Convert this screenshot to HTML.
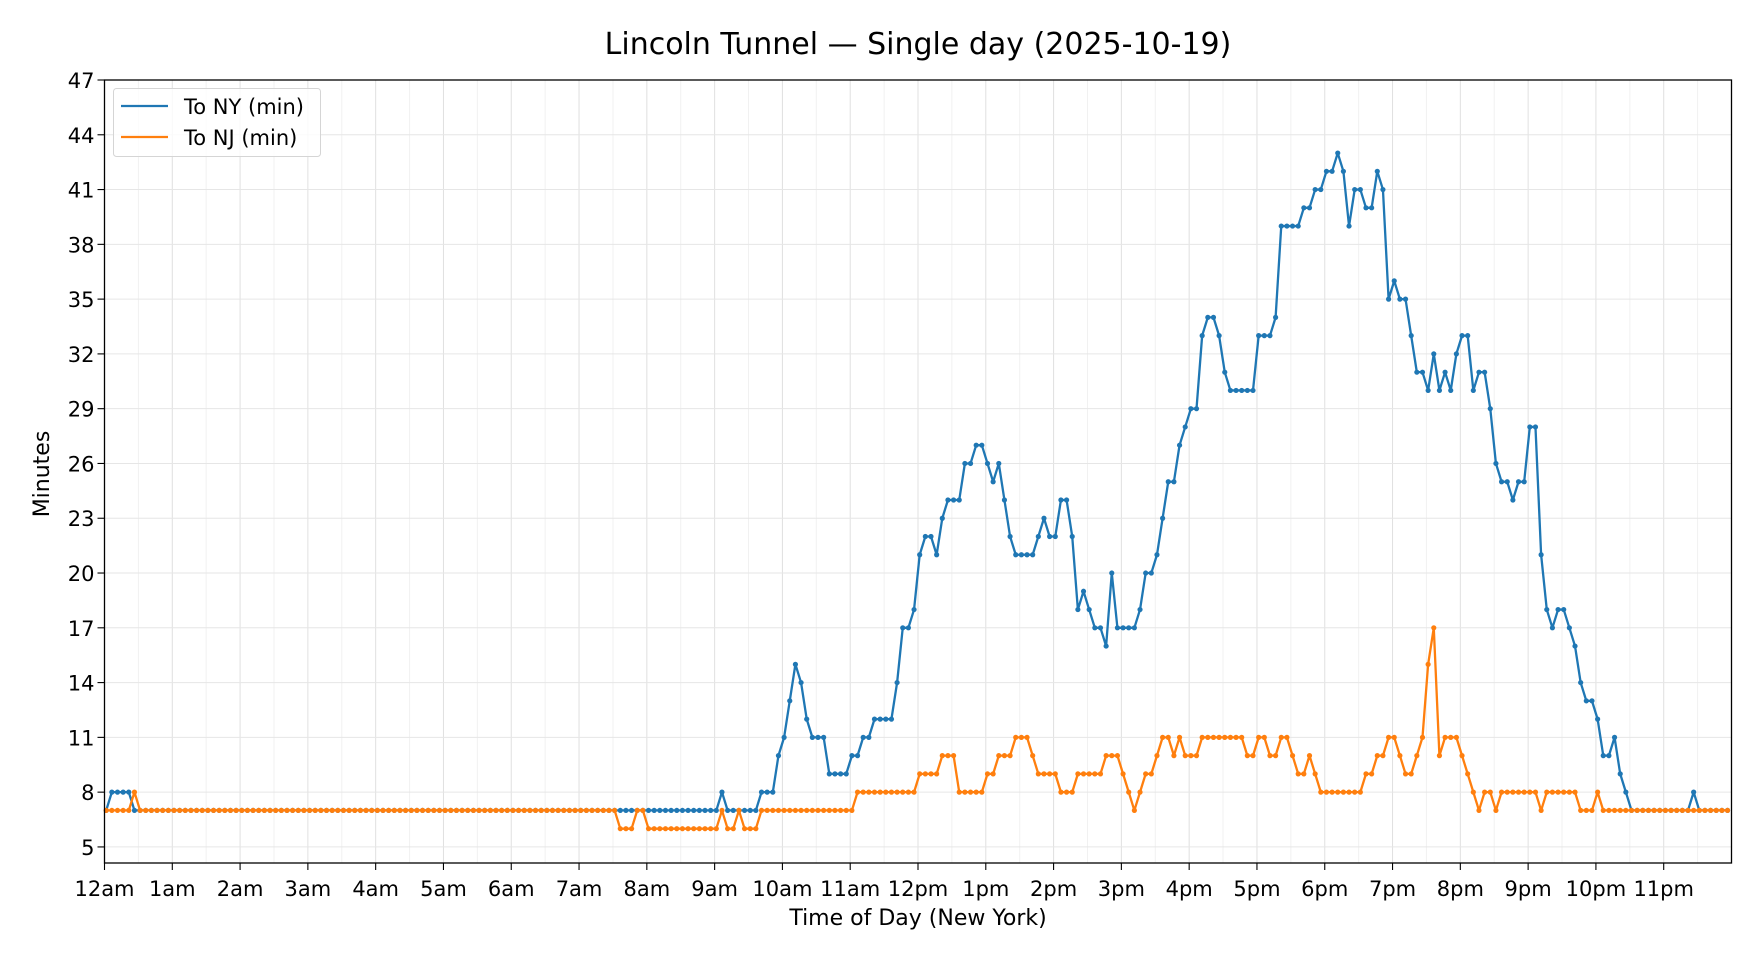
<!DOCTYPE html>
<html><head><meta charset="utf-8"><style>
html,body{margin:0;padding:0;background:#fff;}
svg{display:block;font-family:"DejaVu Sans","Liberation Sans",sans-serif;}
</style></head><body>
<svg id="chart" width="1760" height="960" viewBox="0 0 1760 960">
<rect width="1760" height="960" fill="#fff"/>
<text x="918" y="54" text-anchor="middle" font-size="30" fill="#000">Lincoln Tunnel — Single day (2025-10-19)</text>
<g id="grid"></g>
<g id="series"></g>
<g id="axes"></g>
<text x="918" y="925" text-anchor="middle" font-size="22" fill="#000">Time of Day (New York)</text>
<text x="0" y="0" transform="translate(49,474) rotate(-90)" text-anchor="middle" font-size="22" fill="#000">Minutes</text>
<g>
<rect x="113.5" y="88.5" width="207" height="68" rx="3" fill="#fff" fill-opacity="0.8" stroke="#d5d5d5"/>
<g>
<line x1="121" y1="106" x2="168" y2="106" stroke="#1f77b4" stroke-width="2.2"/>
<text x="184" y="114" font-size="21" fill="#000">To NY (min)</text></g>
<g>
<line x1="121" y1="137" x2="168" y2="137" stroke="#ff7f0e" stroke-width="2.2"/>
<text x="184" y="145" font-size="21" fill="#000">To NJ (min)</text></g>
</g>
</svg>
<script>
const hourLabels=["12am","1am","2am","3am","4am","5am","6am","7am","8am","9am","10am","11am","12pm","1pm","2pm","3pm","4pm","5pm","6pm","7pm","8pm","9pm","10pm","11pm"];
const yTicks=[5,8,11,14,17,20,23,26,29,32,35,38,41,44,47];
const toNY=[7,8,8,8,8,7,7,7,7,7,7,7,7,7,7,7,7,7,7,7,7,7,7,7,7,7,7,7,7,7,7,7,7,7,7,7,7,7,7,7,7,7,7,7,7,7,7,7,7,7,7,7,7,7,7,7,7,7,7,7,7,7,7,7,7,7,7,7,7,7,7,7,7,7,7,7,7,7,7,7,7,7,7,7,7,7,7,7,7,7,7,7,7,7,7,7,7,7,7,7,7,7,7,7,7,7,7,7,7,8,7,7,7,7,7,7,8,8,8,10,11,13,15,14,12,11,11,11,9,9,9,9,10,10,11,11,12,12,12,12,14,17,17,18,21,22,22,21,23,24,24,24,26,26,27,27,26,25,26,24,22,21,21,21,21,22,23,22,22,24,24,22,18,19,18,17,17,16,20,17,17,17,17,18,20,20,21,23,25,25,27,28,29,29,33,34,34,33,31,30,30,30,30,30,33,33,33,34,39,39,39,39,40,40,41,41,42,42,43,42,39,41,41,40,40,42,41,35,36,35,35,33,31,31,30,32,30,31,30,32,33,33,30,31,31,29,26,25,25,24,25,25,28,28,21,18,17,18,18,17,16,14,13,13,12,10,10,11,9,8,7,7,7,7,7,7,7,7,7,7,7,8,7,7,7,7,7,7];
const toNJ=[7,7,7,7,7,8,7,7,7,7,7,7,7,7,7,7,7,7,7,7,7,7,7,7,7,7,7,7,7,7,7,7,7,7,7,7,7,7,7,7,7,7,7,7,7,7,7,7,7,7,7,7,7,7,7,7,7,7,7,7,7,7,7,7,7,7,7,7,7,7,7,7,7,7,7,7,7,7,7,7,7,7,7,7,7,7,7,7,7,7,7,6,6,6,7,7,6,6,6,6,6,6,6,6,6,6,6,6,6,7,6,6,7,6,6,6,7,7,7,7,7,7,7,7,7,7,7,7,7,7,7,7,7,8,8,8,8,8,8,8,8,8,8,8,9,9,9,9,10,10,10,8,8,8,8,8,9,9,10,10,10,11,11,11,10,9,9,9,9,8,8,8,9,9,9,9,9,10,10,10,9,8,7,8,9,9,10,11,11,10,11,10,10,10,11,11,11,11,11,11,11,11,10,10,11,11,10,10,11,11,10,9,9,10,9,8,8,8,8,8,8,8,8,9,9,10,10,11,11,10,9,9,10,11,15,17,10,11,11,11,10,9,8,7,8,8,7,8,8,8,8,8,8,8,7,8,8,8,8,8,8,7,7,7,8,7,7,7,7,7,7,7,7,7,7,7,7,7,7,7,7,7,7,7,7,7,7,7];
const sampleStepMin=5, sampleOffsetMin=1.5;
const X0=104.5,X1=1731.5,Y0=863,Y1=80,YMIN=4.12,YMAX=47;
const NS="http://www.w3.org/2000/svg";
function xs(minutes){return X0+(minutes/1440)*(X1-X0);}
function ys(v){return Y0-(v-YMIN)/(YMAX-YMIN)*(Y0-Y1);}
function mk(tag,attrs,parent){const e=document.createElementNS(NS,tag);for(const k in attrs)e.setAttribute(k,attrs[k]);parent.appendChild(e);return e;}
const grid=document.getElementById('grid'),axes=document.getElementById('axes'),series=document.getElementById('series');
for(let h=0;h<24;h++){
  const xm=xs(h*60),xh=xs(h*60+30);
  const g1=mk('line',{x1:xm,x2:xm,y1:Y1,y2:Y0,stroke:'#e0e0e0','stroke-width':1},grid);
  
  
  const g2=mk('line',{x1:xh,x2:xh,y1:Y1,y2:Y0,stroke:'#f1f1f1','stroke-width':1},grid);
  
  
  const t=mk('line',{x1:xm,x2:xm,y1:Y0,y2:Y0+7,stroke:'#000','stroke-width':1.1},axes);
  
  
  const lb=mk('text',{x:xm,y:Y0+33,'text-anchor':'middle','font-size':21,fill:'#000'},axes);
  lb.textContent=hourLabels[h];
  
  
}
yTicks.forEach(v=>{
  const y=ys(v);
  const g=mk('line',{x1:X0,x2:X1,y1:y,y2:y,stroke:'#e6e6e6','stroke-width':1},grid);
  
  
  const t=mk('line',{x1:X0-7,x2:X0,y1:y,y2:y,stroke:'#000','stroke-width':1.1},axes);
  
  
  const lb=mk('text',{x:X0-10,y:y+8,'text-anchor':'end','font-size':21,fill:'#000'},axes);
  lb.textContent=String(v);
  
  
});
const frame=mk('rect',{x:X0,y:Y1,width:X1-X0,height:Y0-Y1,fill:'none',stroke:'#000','stroke-width':1.3},axes);


function drawSeries(vals,color,name){
  const g=mk('g',{},series);
  
  
  const pts=vals.map((v,i)=>xs(i*sampleStepMin+sampleOffsetMin).toFixed(2)+','+ys(v).toFixed(2)).join(' ');
  const pl=mk('polyline',{points:pts,fill:'none',stroke:color,'stroke-width':2.3,'stroke-linejoin':'round'},g);
  
  
  vals.forEach((v,i)=>{
    const c=mk('circle',{cx:xs(i*sampleStepMin+sampleOffsetMin),cy:ys(v),r:2.6,fill:color},g);
    
    
  });
}
drawSeries(toNY,'#1f77b4','to-ny-series');
drawSeries(toNJ,'#ff7f0e','to-nj-series');
</script>
</body></html>
